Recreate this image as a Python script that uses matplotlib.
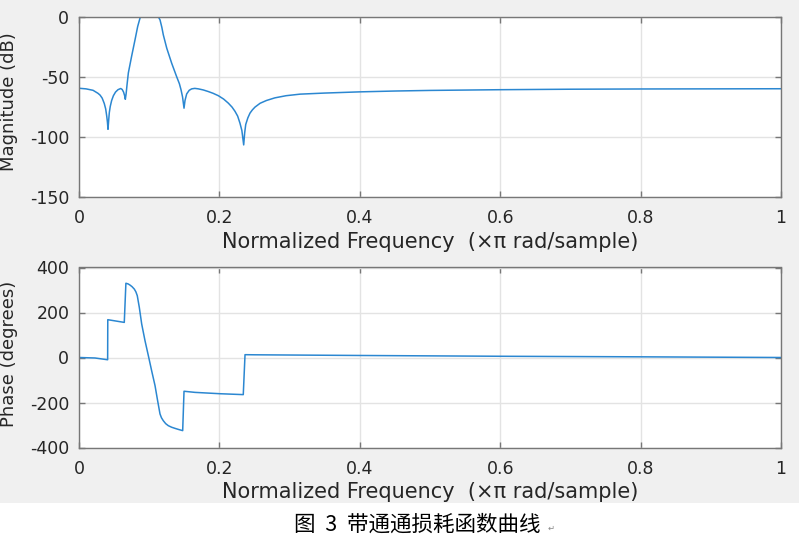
import matplotlib
matplotlib.use("Agg")
import matplotlib.pyplot as plt
from matplotlib.patches import Rectangle

plt.rcParams["axes.unicode_minus"] = False

# ---- data ----
mag_freq = [0.000, 0.010, 0.020, 0.0228, 0.027, 0.030, 0.033, 0.036, 0.038,
            0.0395, 0.0405, 0.0413, 0.0422, 0.0432, 0.0445, 0.0465, 0.0490,
            0.0520, 0.0555, 0.0594, 0.0615, 0.0635, 0.0650, 0.0660, 0.0672,
            0.0684, 0.0703, 0.0750, 0.0798, 0.0836, 0.0874, 0.0950, 0.1050,
            0.1130, 0.1154, 0.1180, 0.1201, 0.1250, 0.1320, 0.1390, 0.1430,
            0.1453, 0.1475, 0.1496, 0.1510, 0.1534, 0.1570, 0.1605, 0.1650,
            0.1700, 0.1770, 0.1840, 0.1910, 0.1985, 0.2060, 0.2127, 0.2180,
            0.2222, 0.2260, 0.2293, 0.2320, 0.2346, 0.2360, 0.2375, 0.2405,
            0.2436, 0.2470, 0.2507, 0.2580, 0.2670, 0.2790, 0.2950, 0.3150,
            0.3500, 0.4000, 0.4500, 0.5000, 0.6000, 0.7000, 0.8000, 0.9000,
            1.0000]
mag_db = [-59.8, -60.3, -61.5, -62.5, -64.0, -65.5, -68.0, -72.5, -77.0,
          -83.0, -88.0, -94.0, -87.0, -80.0, -75.0, -70.0, -66.0,
          -63.0, -61.0, -60.0, -60.8, -63.0, -66.0, -69.0, -64.0,
          -57.0, -47.0, -33.0, -19.4, -8.3, -0.3, -0.3, -0.3,
          -0.3, -2.8, -9.0, -15.3, -26.4, -38.9, -50.0, -56.0,
          -61.0, -67.0, -76.4, -70.0, -64.5, -61.5, -60.3, -59.9,
          -60.3, -61.2, -62.5, -64.0, -66.0, -68.8, -72.2, -75.5,
          -79.0, -83.0, -88.9, -95.0, -107.0, -97.0, -90.0, -84.5,
          -80.5, -77.8, -75.5, -72.3, -70.0, -67.8, -66.0, -64.7,
          -63.8, -62.8, -62.1, -61.6, -61.0, -60.6, -60.4, -60.3,
          -60.2]

ph_freq = [0.000, 0.0228, 0.0408, 0.0410, 0.0645, 0.0668, 0.0700, 0.0726,
           0.0755, 0.0788, 0.0810, 0.0830, 0.0859, 0.0893, 0.0940, 0.0988,
           0.1035, 0.1083, 0.1120, 0.1154, 0.1175, 0.1201, 0.1235, 0.1272,
           0.1320, 0.1368, 0.1420, 0.1477, 0.1496, 0.1652, 0.2009, 0.2340,
           0.2365, 0.2507, 0.4000, 0.6000, 0.8000, 1.0000]
ph_deg = [0.0, -2.2, -10.0, 168.0, 156.0, 330.0, 327.0, 322.0,
          315.0, 304.0, 292.0, 275.0, 223.0, 149.0, 75.0, 8.0,
          -59.0, -125.0, -192.0, -251.0, -268.0, -281.0, -294.0, -303.0,
          -310.0, -315.0, -320.0, -325.0, -150.0, -155.0, -161.0, -165.0,
          12.5, 12.0, 9.0, 5.5, 3.0, 0.0]

x_ticks = [0, 0.2, 0.4, 0.6, 0.8, 1]
x_tick_labels = ["0", "0.2", "0.4", "0.6", "0.8", "1"]
mag_ticks = [-150, -100, -50, 0]
ph_ticks = [-400, -200, 0, 200, 400]

xlabel_text = "Normalized Frequency  (\u00d7\u03c0 rad/sample)"
mag_label = "Magnitude (dB)"
ph_label = "Phase (degrees)"
caption = "图  3  带通通损耗函数曲线"

# ---- figure ----
W, H = 799, 545
fig = plt.figure(figsize=(W / 100, H / 100), dpi=100, facecolor="white")
fig.patches.append(Rectangle((0, (H - 503) / H), 1, 503 / H, transform=fig.transFigure,
                             facecolor="#f0f0f0", edgecolor="none", zorder=-10))

line_color = "#2b87d1"
spine_color = "#777777"
text_color = "#262626"
grid_color = "#e3e3e3"

left, right = 79, 781
ax_w = (right - left) / W
ax_h = 180 / H
ax1 = fig.add_axes([left / W, (H - 196.5) / H, ax_w, ax_h])
ax2 = fig.add_axes([left / W, (H - 447.5) / H, ax_w, ax_h])


def style(ax, yticks, ylim):
    ax.set_xlim(0, 1)
    ax.set_ylim(*ylim)
    ax.set_xticks(x_ticks)
    ax.set_xticklabels(x_tick_labels)
    ax.set_yticks(yticks)
    ax.set_facecolor("white")
    ax.grid(True, color=grid_color, linewidth=1.0)
    ax.set_axisbelow(True)
    for s in ax.spines.values():
        s.set_color(spine_color)
        s.set_linewidth(1.0)
    ax.tick_params(direction="in", top=True, right=True, length=4, width=1.0,
                   color=spine_color, labelcolor=text_color, labelsize=12.5)
    ax.tick_params(axis="x", pad=9)
    ax.tick_params(axis="y", pad=7)
    for lab in ax.get_xticklabels() + ax.get_yticklabels():
        lab.set_family("DejaVu Sans")
    ax.set_xlabel(xlabel_text, fontsize=15, color=text_color, family="DejaVu Sans",
                  va="center")
    ax.xaxis.set_label_coords(0.5, -0.25)


ax1.plot(mag_freq, mag_db, color=line_color, linewidth=1.1)
style(ax1, mag_ticks, (-150, 0))
ax1.set_ylabel(mag_label, fontsize=13, color=text_color, family="DejaVu Sans",
               va="center", ha="center")
ax1.yaxis.set_label_coords((9.5 - left) / (right - left), (196.5 - 101.5) / 180)

ax2.plot(ph_freq, ph_deg, color=line_color, linewidth=1.1)
style(ax2, ph_ticks, (-400, 400))
ax2.set_ylabel(ph_label, fontsize=13, color=text_color, family="DejaVu Sans",
               va="center", ha="center")
ax2.yaxis.set_label_coords((9.5 - left) / (right - left), (447.5 - 354) / 180)

fig.text(417.5 / W, (H - 525) / H, caption, fontsize=15.5, color="black",
         family=["Noto Sans CJK SC", "DejaVu Sans"], ha="center", va="center")
fig.text(551 / W, (H - 528) / H, "\u21b5", fontsize=6, color="#888888",
         family=["DejaVu Sans"], ha="center", va="center")

fig.savefig("out.png", dpi=100, facecolor="white")
